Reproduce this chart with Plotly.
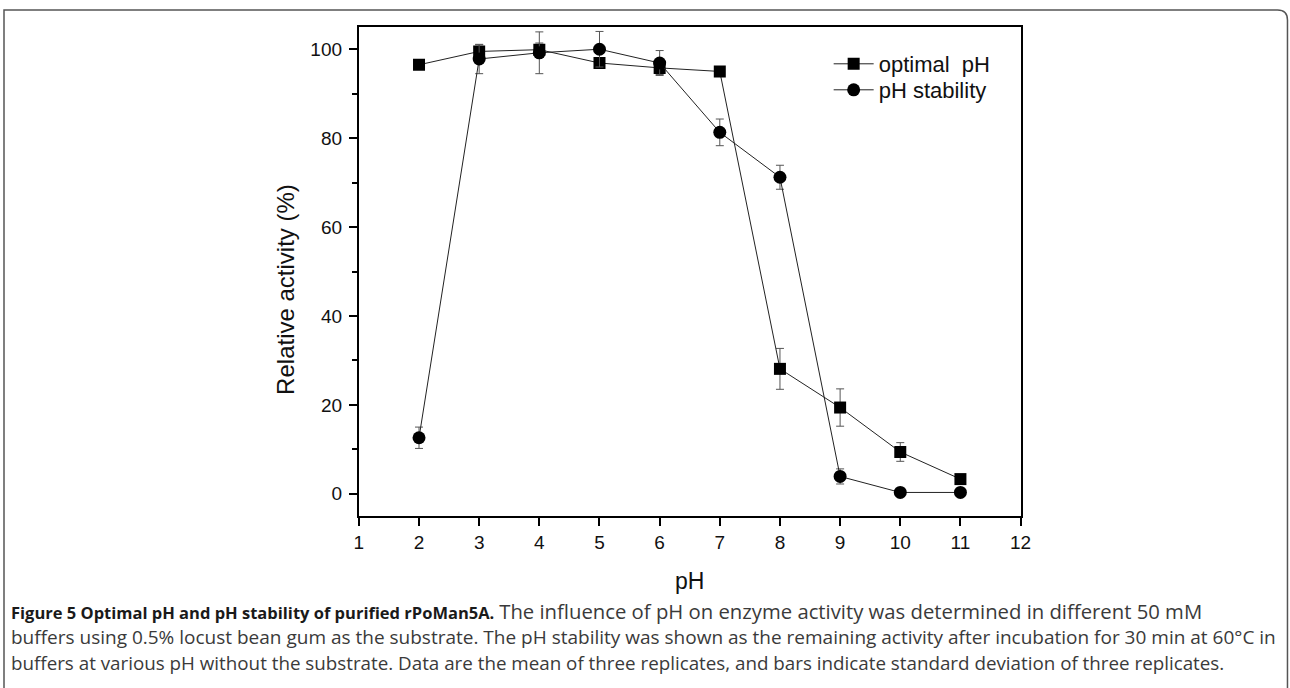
import plotly.graph_objects as go

# ---- data ----
ph = [2, 3, 4, 5, 6, 7, 8, 9, 10, 11]
optimal_ph = [96.5, 99.5, 99.9, 96.9, 95.8, 95.0, 28.1, 19.4, 9.4, 3.3]
optimal_err = [1.0, 1.5, 1.5, 1.0, 1.5, 0.8, 4.6, 4.2, 2.1, 0.5]
ph_stability = [12.6, 97.8, 99.2, 100.0, 96.9, 81.3, 71.2, 3.9, 0.3, 0.3]
stability_err = [2.4, 3.3, 4.7, 4.0, 2.8, 3.0, 2.7, 1.7, 0.3, 0.3]
x_ticks = list(range(1, 13))
y_ticks = [0, 20, 40, 60, 80, 100]
y_minor_ticks = [10, 30, 50, 70, 90]
series_names = ["optimal\u00a0 pH", "pH stability"]
x_title = "pH"
y_title = "Relative activity (%)"

caption_lines = [
    "<b><span style='color:#1a1a1a;font-size:16.5px'>Figure 5 Optimal pH and pH stability of purified rPoMan5A.</span></b> "
    "<span style='font-size:20.3px'>The influence of pH on enzyme activity was determined in different 50 mM</span>",
    "buffers using 0.5% locust bean gum as the substrate. The pH stability was shown as the remaining activity after incubation for 30 min at 60\u00b0C in",
    "<span style='font-size:18.8px'>buffers at various pH without the substrate. Data are the mean of three replicates, and bars indicate standard deviation of three replicates.</span>",
]

W, H = 1290, 688
def px(x):
    # horizontal placement, calibrated against the rendered picture
    return (x - 4) / 0.988 / W
def py(y):
    return 1 - y / H

ARIAL = "Liberation Sans, Arial, sans-serif"

fig = go.Figure()
fig.add_trace(go.Scatter(
    x=ph, y=optimal_ph, name=series_names[0], mode="lines+markers", legend="legend",
    line=dict(color="#222222", width=1),
    marker=dict(symbol="square", size=12, color="black"),
    error_y=dict(type="data", array=optimal_err, visible=True, color="#555555", thickness=1, width=4),
))
fig.add_trace(go.Scatter(
    x=ph, y=ph_stability, name=series_names[1], mode="lines+markers", legend="legend2",
    line=dict(color="#222222", width=1),
    marker=dict(symbol="circle", size=13, color="black"),
    error_y=dict(type="data", array=stability_err, visible=True, color="#555555", thickness=1, width=4),
))

axis_font = dict(family=ARIAL, size=19, color="#111111")
legend_font = dict(family=ARIAL, size=22, color="#111111")

fig.update_layout(
    width=W, height=H, autosize=False,
    margin=dict(l=0, r=0, t=0, b=0),
    paper_bgcolor="white", plot_bgcolor="white",
    showlegend=True,
    legend=dict(x=px(828), y=py(43), xanchor="left", yanchor="top",
                bgcolor="rgba(0,0,0,0)", font=legend_font, itemwidth=40),
    legend2=dict(x=px(828), y=py(69), xanchor="left", yanchor="top",
                 bgcolor="rgba(0,0,0,0)", font=legend_font, itemwidth=40),
    xaxis=dict(
        domain=[px(358), px(1020)], range=[1, 12],
        tickmode="array", tickvals=x_ticks, ticktext=[str(v) for v in x_ticks],
        ticks="outside", ticklen=8, tickwidth=1.5, tickcolor="black",
        showline=True, linecolor="black", linewidth=2, mirror=True,
        showgrid=False, zeroline=False, tickfont=axis_font,
        title=dict(text=x_title, font=dict(family=ARIAL, size=23, color="#111111"), standoff=21),
    ),
    yaxis=dict(
        domain=[py(516), py(27)], range=[-5, 105],
        tickmode="array", tickvals=y_ticks, ticktext=[str(v) for v in y_ticks],
        ticks="outside", ticklen=8, tickwidth=1.5, tickcolor="black",
        minor=dict(tickmode="array", tickvals=y_minor_ticks, ticks="outside", ticklen=5, tickwidth=1.5, tickcolor="black"),
        showline=True, linecolor="black", linewidth=2, mirror=True,
        showgrid=False, zeroline=False, tickfont=axis_font, ticklabelstandoff=3,
    ),
)

# y-axis title placed where the reference has it (slightly below plot centre)
fig.add_annotation(text=y_title, x=px(284), y=py(289), xref="paper", yref="paper",
                   textangle=-90, showarrow=False, xanchor="center", yanchor="middle",
                   font=dict(family=ARIAL, size=24, color="#111111"))

# rounded outer frame of the figure panel
r = 10
x0, x1, y0, y1 = 3, 1287, 10, 700
path = (f"M {px(x0)},{py(y1)} L {px(x0)},{py(y0)} L {px(x1 - r)},{py(y0)} "
        f"Q {px(x1)},{py(y0)} {px(x1)},{py(y0 + r)} L {px(x1)},{py(y1)}")
fig.add_shape(type="path", path=path, xref="paper", yref="paper",
              line=dict(color="#555555", width=1.5))

for line, yy in zip(caption_lines, [611, 637, 663]):
    fig.add_annotation(text=line, x=px(8), y=py(yy), xref="paper", yref="paper",
                       xanchor="left", yanchor="middle", showarrow=False, align="left",
                       font=dict(family="Open Sans, sans-serif", size=19, color="#3a3a3a"))

fig.write_html("out.html",
               config={"displayModeBar": False, "responsive": False},
               post_script="document.body.style.margin='0';document.body.style.overflow='hidden';")
